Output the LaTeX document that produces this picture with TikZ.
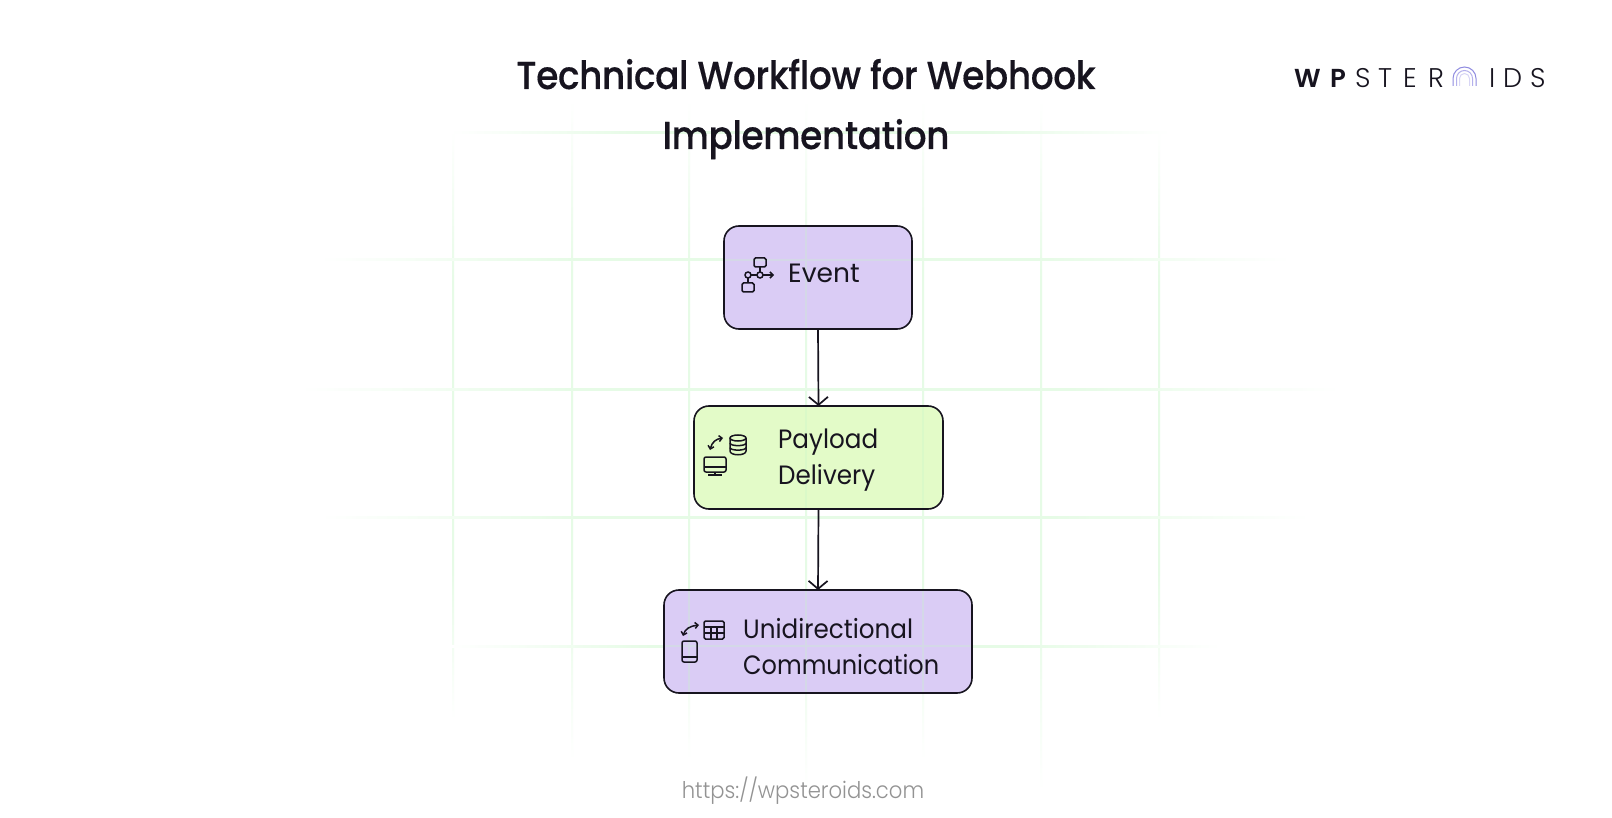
\documentclass[tikz,border=0pt]{standalone}
\usepackage{fontspec}
\usetikzlibrary{arrows.meta}
\setmainfont{Poppins}
\newfontfamily\titlefont{Poppins Medium}[FakeStretch=0.92,LetterSpace=-1,FakeBold=0.3]
\newfontfamily\labelfont{Poppins}[FakeStretch=0.93]
\newfontfamily\labelnarrow{Poppins}[FakeStretch=0.905]
\newfontfamily\lightfont{Poppins Light}
\newfontfamily\urlfont{Poppins Light}[FakeStretch=0.92]
\newfontfamily\logobold{Poppins SemiBold}
\definecolor{ink}{HTML}{17141F}
\definecolor{lav}{HTML}{DACCF5}
\definecolor{lime}{HTML}{E3FBC8}
\definecolor{gridg}{HTML}{E6FBE6}
\definecolor{overg}{HTML}{C8F5C8}
\definecolor{arcA}{HTML}{8F8BE0}
\definecolor{arcB}{HTML}{B4B0EC}
\definecolor{arcC}{HTML}{D8D6F5}
\pgfdeclarehorizontalshading{gridh}{100bp}{color(0bp)=(white); color(25bp)=(white); color(38bp)=(gridg); color(62bp)=(gridg); color(75bp)=(white); color(100bp)=(white)}
\pgfdeclareverticalshading{gridv}{100bp}{color(0bp)=(white); color(25bp)=(white); color(38bp)=(gridg); color(62bp)=(gridg); color(75bp)=(white); color(100bp)=(white)}
\tikzset{
 x=1pt,y=-1pt,
 flowbox/.style={draw=ink,line width=1.6pt,rounded corners=15pt,inner sep=0pt,outer sep=0pt,anchor=north west},
 boxlabel/.style={text=ink,font=\labelfont\fontsize{26.5}{36}\selectfont,anchor=base west,inner sep=0pt},
 titletext/.style={text=ink,font=\titlefont\fontsize{39}{48}\selectfont,anchor=base,inner sep=0pt},
 link/.style={draw=ink,line width=1.7pt,-{Straight Barb[length=8pt,width=19pt,line width=1.7pt]}},
 icon/.style={draw=ink,line width=1.5pt,fill=none},
 vgrid/.style={shading=gridv,draw=none},
 hgrid/.style={shading=gridh,draw=none},
 overgrid/.style={draw=overg,line width=2pt,opacity=.3},
 logotext/.style={text=ink,inner sep=0pt,anchor=base west},
}
\begin{document}
\begin{tikzpicture}
\useasboundingbox (0,0) rectangle (1612,818);
\fill[white] (0,0) rectangle (1612,818);
% grid
\foreach \x/\a/\b in {453/130/720,572/100/760,689/100/760,806/100/790,923/100/760,1041/100/790,1159/130/720}
  \shade[vgrid] (\x-1,\a) rectangle (\x+1,\b);
\foreach \y/\a/\b in {133/450/1170,260/320/1290,389/300/1340,517/320/1310,646/450/1220}
  \shade[hgrid] (\a,\y-1) rectangle (\b,\y+1);
% title
\node[titletext] (t1) at (806,89) {Technical Workflow for Webhook};
\node[titletext] (t2) at (806,149) {Implementation};
% boxes
\node[flowbox,fill=lav,minimum width=188pt,minimum height=103pt] (event) at (724,226) {};
\node[flowbox,fill=lime,minimum width=249pt,minimum height=103pt] (payload) at (694,406) {};
\node[flowbox,fill=lav,minimum width=308pt,minimum height=103pt] (uni) at (664,590) {};
\draw[link] (event.south) -- (payload.north);
\draw[link] (payload.south) -- (uni.north);
% grid showing through the boxes
\draw[overgrid] (806,227) -- (806,328) (725,260) -- (911,260);
\draw[overgrid] (806,407) -- (806,508) (923,407) -- (923,508);
\draw[overgrid] (689,591) -- (689,692) (806,591) -- (806,692) (923,591) -- (923,692) (665,646) -- (971,646);
% labels
\node[boxlabel,font=\fontsize{26.5}{36}\selectfont] (l1) at (788,283) {Event};
\node[boxlabel] (l2) at (778,448) {Payload};
\node[boxlabel] (l3) at (778,484) {Delivery};
\node[boxlabel] (l4) at (743,638) {Unidirectional};
\node[boxlabel,font=\labelnarrow\fontsize{26.5}{36}\selectfont] (l5) at (743,674) {Communication};
% event icon
\draw[icon,rounded corners=1.5pt] (754,258) rectangle (766,267);
\draw[icon,rounded corners=1.5pt] (742,283) rectangle (754,292);
\draw[icon] (760,275) circle (3);
\draw[icon] (748,275) circle (3);
\draw[icon] (760,267) -- (760,272);
\draw[icon] (751,275) -- (757,275);
\draw[icon] (748,278) -- (748,283);
\draw[icon,-{Straight Barb[length=3pt,width=6pt]}] (763,275) -- (774,275);
% payload icon
\draw[icon,{Straight Barb[length=3pt,width=6pt]}-{Straight Barb[length=3pt,width=6pt]}] (710,450) .. controls (712,442) and (716,439) .. (723,438);
\draw[icon] (730,438) -- (730,451) .. controls (730,456) and (746,456) .. (746,451) -- (746,438);
\draw[icon] (738,438) ellipse (8 and 3);
\draw[icon] (730,443) .. controls (730,446.5) and (746,446.5) .. (746,443);
\draw[icon] (730,447.5) .. controls (730,451) and (746,451) .. (746,447.5);
\draw[icon,rounded corners=2pt] (704,457) rectangle (726,472);
\draw[icon] (704,467) -- (726,467);
\draw[icon] (715,472) -- (715,475);
\draw[icon] (708,475) -- (722,475);
% uni icon
\draw[icon,{Straight Barb[length=3pt,width=6pt]}-{Straight Barb[length=3pt,width=6pt]}] (683,636) .. controls (685,629) and (690,626) .. (699,625);
\draw[icon,rounded corners=1.5pt] (704,621) rectangle (724,639);
\draw[icon] (704,627) -- (724,627) (704,633) -- (724,633) (711,627) -- (711,639) (717,627) -- (717,639);
\draw[icon,rounded corners=2pt] (682,641) rectangle (697,662);
\draw[icon] (682,657) -- (697,657);
% logo
\node[logotext,font=\logobold\fontsize{26}{26}\selectfont] (lw) at (1294,88) {W};
\node[logotext,font=\logobold\fontsize{26}{26}\selectfont] (lp) at (1330,88) {P};
\foreach \c/\x in {S/1355,T/1378,E/1403,R/1428,I/1489,D/1503,S/1530}
  \node[logotext,font=\lightfont\fontsize{27}{27}\selectfont] at (\x,88) {\c};
\draw[arcA,line width=1pt] (1453,86) -- (1453,78.5) arc[start angle=180,end angle=360,radius=11.5] -- (1476,86);
\draw[arcB,line width=1pt] (1456.5,86) -- (1456.5,78.5) arc[start angle=180,end angle=360,radius=8] -- (1472.5,86);
\draw[arcC,line width=1pt] (1459.5,86) -- (1459.5,78.5) arc[start angle=180,end angle=360,radius=5] -- (1469.5,86);
% url
\node[text=gray!85,font=\urlfont\fontsize{23}{24}\selectfont,anchor=base,inner sep=0pt] (url) at (803,798) {https://wpsteroids.com};
\end{tikzpicture}
\end{document}
